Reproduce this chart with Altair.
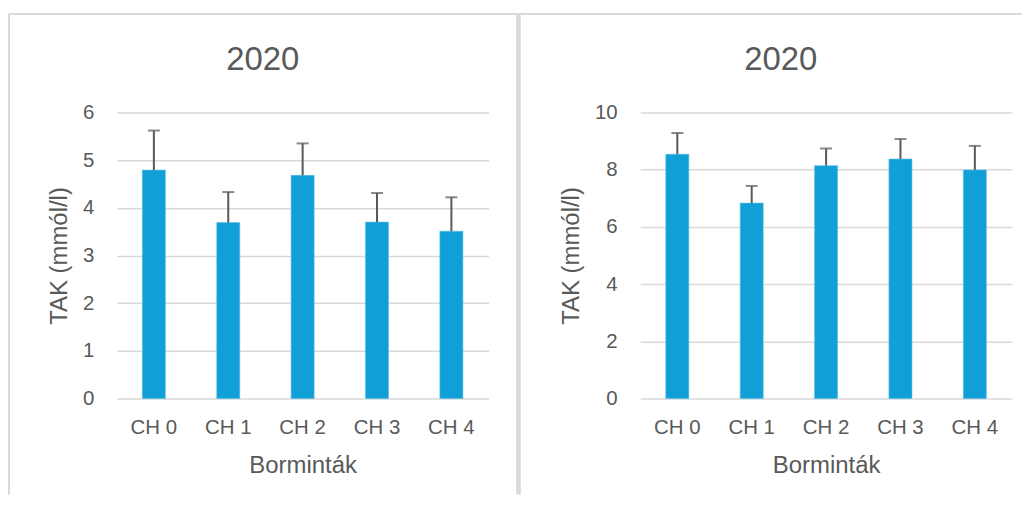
import altair as alt
import pandas as pd

categories = ["CH 0", "CH 1", "CH 2", "CH 3", "CH 4"]
left_values = [4.79, 3.69, 4.68, 3.70, 3.51]
left_err_top = [5.62, 4.33, 5.35, 4.31, 4.22]
right_values = [8.54, 6.83, 8.14, 8.37, 7.99]
right_err_top = [9.28, 7.43, 8.74, 9.07, 8.83]
title_text = "2020"
x_title = "Borminták"
y_title = "TAK (mmól/l)"

TXT = "#595959"
GRID = "#d9d9d9"
BAR = "#119fd7"
FONT = "Liberation Sans"


def panel(values, errs, ymax, ystep, title_x, box_left, box_right, draw_right):
    df = pd.DataFrame({"cat": categories, "val": values, "err": errs})
    x = alt.X("cat:N", sort=categories, title=x_title,
              scale=alt.Scale(paddingInner=0.69, paddingOuter=0.345),
              axis=alt.Axis(labelAngle=0, labelFontSize=20.5, labelColor=TXT, labelFont=FONT,
                            titleFontSize=24, titleColor=TXT, titleFont=FONT, titleFontWeight="normal",
                            ticks=False, domain=False, grid=False, labelPadding=19, titlePadding=16))
    y = alt.Y("val:Q", title=y_title,
              scale=alt.Scale(domain=[0, ymax], nice=False),
              axis=alt.Axis(values=list(range(0, ymax + 1, ystep)), labelFontSize=20.5, labelColor=TXT,
                            labelFont=FONT, titleFontSize=24, titleColor=TXT, titleFont=FONT,
                            titleFontWeight="normal", ticks=False, domain=False, labelPadding=23,
                            titlePadding=11, gridColor=GRID, gridWidth=1.5))
    base = alt.Chart(df)
    bars = base.mark_bar(color=BAR, stroke="#5bc0e8", strokeWidth=0.6).encode(x=x, y=y)
    rule = base.mark_rule(color=TXT, strokeWidth=2).encode(x=alt.X("cat:N", sort=categories), y="val:Q", y2="err:Q")
    cap = base.mark_tick(color=TXT, thickness=2, size=12, orient="horizontal").encode(
        x=alt.X("cat:N", sort=categories), y="err:Q")
    top_b = alt.Chart(df).mark_rule(color=GRID, strokeWidth=1.5).encode(
        x=alt.value(box_left), x2=alt.value(box_right), y=alt.value(-99))
    left_b = alt.Chart(df).mark_rule(color=GRID, strokeWidth=1.5).encode(
        x=alt.value(box_left), y=alt.value(-99), y2=alt.value(383))
    ttl = alt.Chart(pd.DataFrame({"t": [title_text]})).mark_text(
        fontSize=33, color=TXT, font=FONT, align="center", baseline="alphabetic").encode(
        text="t:N", x=alt.value(title_x), y=alt.value(-43))
    layers = [top_b, left_b, bars, rule, cap, ttl]
    if draw_right:
        right_b = alt.Chart(df).mark_rule(color=GRID, strokeWidth=1.5).encode(
            x=alt.value(box_right), y=alt.value(-99), y2=alt.value(383))
        layers.insert(2, right_b)
    return alt.layer(*layers).properties(width=373, height=287)


left = panel(left_values, left_err_top, 6, 1, 146.5, -108, 402, True)
right = panel(right_values, right_err_top, 10, 2, 141, -121, 383, False)

chart = alt.hconcat(left, right, spacing=0).properties(
    padding={"left": 0, "top": 4, "right": 0, "bottom": 0}
).configure(background="white").configure_view(stroke=None)

chart.save("out.html", embed_options={"renderer": "svg", "actions": False})
